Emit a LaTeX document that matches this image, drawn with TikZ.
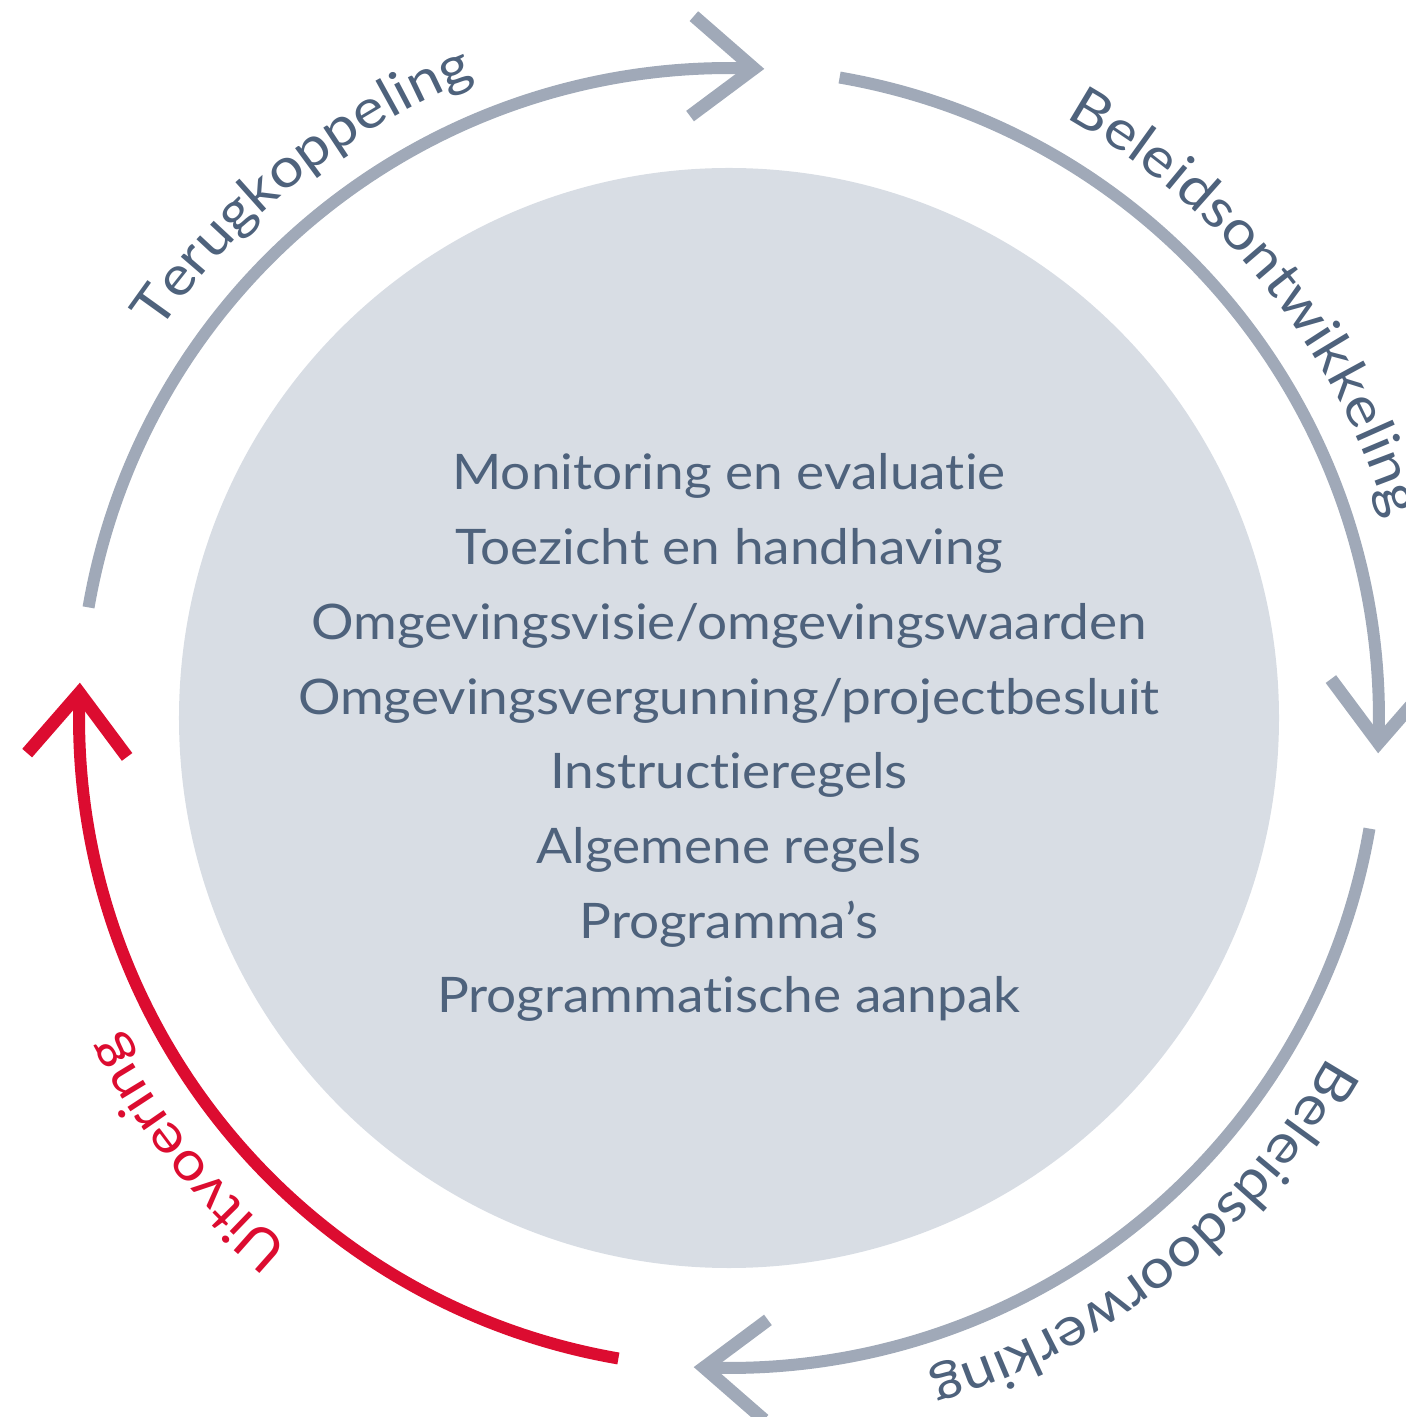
\documentclass[tikz,border=0pt]{standalone}
\usepackage{fontspec}
\setmainfont{Lato}[Ligatures=NoCommon]
\newfontfamily\midfam{Lato}[Ligatures=NoCommon, FakeStretch=1.085]
\newfontfamily\labfam{Lato}[Ligatures=NoCommon, FakeStretch=1.1]
\usetikzlibrary{decorations.text}
\definecolor{circfill}{HTML}{D8DDE4}
\definecolor{arcgray}{HTML}{A0A9B8}
\definecolor{txtblue}{HTML}{4E627C}
\definecolor{uitred}{HTML}{DC0C30}
\newcommand{\labfont}{\labfam\fontsize{27.3pt}{30pt}\selectfont}
\newcommand{\midfont}{\midfam\fontsize{24.5pt}{30pt}\selectfont}
\begin{document}
\begin{tikzpicture}[x=0.5pt,y=0.5pt,
  arcline/.style={line width=6pt, line cap=butt},
  chevron/.style={line width=6.5pt, line cap=butt, line join=miter, miter limit=10},
  midtext/.style={anchor=base, inner sep=0pt, font=\midfont, text=txtblue}]
\useasboundingbox (-729,-699) rectangle (677,718);
\fill[circfill] (0,0) circle[radius=550];
% central list
\foreach \t [count=\i from 0] in {Monitoring en evaluatie, Toezicht en handhaving,
  Omgevingsvisie/omgevingswaarden, Omgevingsvergunning/projectbesluit,
  Instructieregels, Algemene regels, Programma’s, Programmatische aanpak}
  \node[midtext] (line\i) at (0,{228-74.7*\i}) {\t};
% cycle arcs
\foreach \k/\col/\lab in {0/arcgray/Terugkoppeling, 1/arcgray/Beleidsontwikkeling,
  2/arcgray/Beleidsdoorwerking, 3/uitred/Uitvoering}{
  \begin{scope}[rotate={-2.2-90*\k}]
    \draw[arcline, draw=\col] (172.4:650) arc[start angle=172.4, end angle=90.4, radius=650];
    \draw[chevron, draw=\col] (-62,700) -- (0,650) -- (-62,600);
  \end{scope}
  \begin{scope}[rotate={-2.7-90*\k}]
    \ifnum\k=3
      \path[decorate, decoration={text along path, text align=center,
        text={|\labfont\color{uitred}|\lab}}]
        (172.9:688) arc[start angle=172.9, end angle=90, radius=688];
    \else
      \path[decorate, decoration={text along path, text align=center,
        text={|\labfont\color{txtblue}|\lab}}]
        (172.9:688) arc[start angle=172.9, end angle=90, radius=688];
    \fi
  \end{scope}
}
\end{tikzpicture}
\end{document}
